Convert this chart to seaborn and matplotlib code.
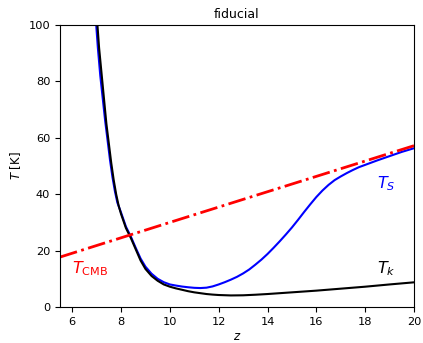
import matplotlib
matplotlib.use("Agg")
import matplotlib.pyplot as plt
import seaborn as sns
import pandas as pd

# Kinetic gas temperature T_k
z_k = [7.00, 7.10, 7.20, 7.30, 7.40, 7.50, 7.60, 7.70, 7.80, 7.90, 8.00, 8.20, 8.40,
       8.60, 8.80, 9.00, 9.25, 9.50, 9.75, 10.0, 10.25, 10.5, 10.75, 11.0, 11.25, 11.5,
       11.75, 12.0, 12.5, 13.0, 13.5, 14.0, 15.0, 16.0, 17.0, 18.0, 19.0, 20.0]
T_k = [104, 92, 83, 74, 65, 58, 51, 45, 40, 36, 33, 28, 24.5,
       20.5, 16.5, 13.5, 11.0, 9.3, 8.0, 7.2, 6.6, 6.1, 5.6, 5.2, 4.9, 4.6,
       4.4, 4.25, 4.1, 4.15, 4.35, 4.6, 5.2, 5.8, 6.5, 7.2, 8.0, 8.75]

# Spin temperature T_S
z_s = [6.95, 7.05, 7.15, 7.25, 7.35, 7.45, 7.55, 7.65, 7.75, 7.85, 8.00, 8.20, 8.40,
       8.60, 8.80, 9.00, 9.25, 9.50, 9.75, 10.0, 10.25, 10.5, 10.75, 11.0, 11.25, 11.5,
       11.75, 12.0, 12.25, 12.5, 12.75, 13.0, 13.25, 13.5, 13.75, 14.0, 14.25, 14.5,
       14.75, 15.0, 15.25, 15.5, 15.75, 16.0, 16.25, 16.5, 16.75, 17.0, 17.25, 17.5,
       17.75, 18.0, 18.5, 19.0, 19.5, 20.0]
T_s = [104, 92, 82, 74, 66, 59, 52, 46, 41, 37, 33.5, 28.5, 25,
       21, 17.2, 14.3, 11.8, 10.0, 8.8, 8.0, 7.6, 7.25, 7.0, 6.8, 6.72, 6.85,
       7.3, 8.0, 8.8, 9.7, 10.7, 11.9, 13.3, 15.0, 16.8, 18.8, 21.0, 23.3,
       25.7, 28.2, 30.9, 33.7, 36.4, 39.0, 41.3, 43.3, 45.0, 46.3, 47.5, 48.6,
       49.6, 50.4, 52.0, 53.5, 55.0, 56.3]

# CMB temperature
z_cmb = [5.5, 10.0, 15.0, 20.0]
T_cmb = [17.7, 30.0, 43.6, 57.2]

title = "fiducial"
xlabel = "$z$"
ylabel = "$T$ [K]"

sns.set_style("ticks", {"axes.edgecolor": "black", "xtick.color": "black",
                        "ytick.color": "black", "text.color": "black",
                        "axes.labelcolor": "black"})
plt.rcParams["font.family"] = ["DejaVu Sans"]
plt.rcParams["mathtext.fontset"] = "dejavusans"

fig = plt.figure(figsize=(4.23, 3.43), dpi=100)
ax = fig.add_axes([60 / 423, 1 - 307 / 343, (414 - 60) / 423, (307 - 25) / 343])

df_k = pd.DataFrame({"z": z_k, "T": T_k})
df_s = pd.DataFrame({"z": z_s, "T": T_s})
df_c = pd.DataFrame({"z": z_cmb, "T": T_cmb})

sns.lineplot(data=df_s, x="z", y="T", color="blue", lw=1.5, ax=ax, estimator=None, sort=False)
sns.lineplot(data=df_k, x="z", y="T", color="black", lw=1.5, ax=ax, estimator=None, sort=False)
sns.lineplot(data=df_c, x="z", y="T", color="red", lw=2, ax=ax, estimator=None, sort=False)
ax.lines[-1].set_linestyle("-.")

ax.set_xlim(5.5, 20)
ax.set_ylim(0, 100)
ax.set_xticks([6, 8, 10, 12, 14, 16, 18, 20])
ax.set_yticks([0, 20, 40, 60, 80, 100])
ax.tick_params(labelsize=8.2, length=3.5, width=0.8)
for s in ax.spines.values():
    s.set_linewidth(0.8)
ax.set_xlabel(xlabel, fontsize=8.5, labelpad=2)
ax.set_ylabel(ylabel, fontsize=8.5, labelpad=4)
ax.set_title(title, fontsize=9, pad=5)

ax.text(6.0, 12, r"$T_{\rm CMB}$", color="red", fontsize=11.5)
ax.text(18.5, 42, r"$T_S$", color="blue", fontsize=11.5)
ax.text(18.5, 12, r"$T_k$", color="black", fontsize=11.5)

fig.savefig("out.png", dpi=100)
